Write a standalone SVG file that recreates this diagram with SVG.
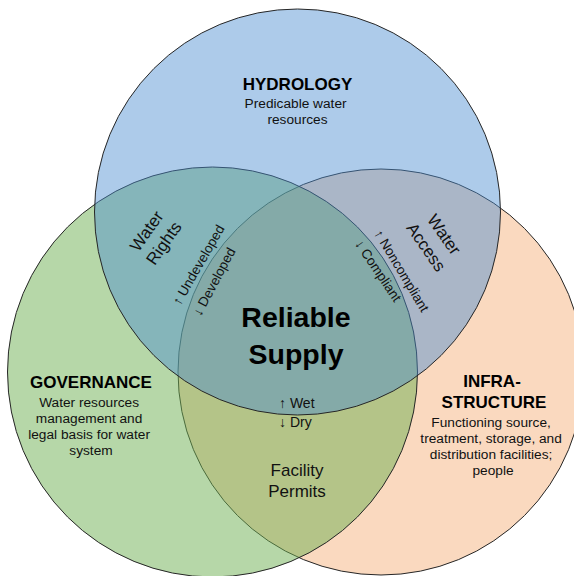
<svg xmlns="http://www.w3.org/2000/svg" width="574" height="576" viewBox="0 0 574 576">
  <style>
    text { font-family: "Liberation Sans", Arial, sans-serif; fill: #111; }
    .ring { stroke: #262626; stroke-width: 1; }
    .title { font-size: 17px; font-weight: bold; text-anchor: middle; fill: #000; }
    .body { font-size: 13.7px; text-anchor: middle; }
    .zone { font-size: 17px; text-anchor: middle; }
    .trend { font-size: 13.5px; text-anchor: middle; }
    .core { font-size: 28.5px; font-weight: bold; text-anchor: middle; fill: #000; }
  </style>

  <rect width="574" height="576" fill="#ffffff"/>

  <!-- Infrastructure circle (bottom right, lowest layer) -->
  <g id="infrastructure">
    <circle class="ring" cx="381" cy="372" r="203" fill="#fad9bf"/>
    <text class="title" x="492" y="387">INFRA-</text>
    <text class="title" x="494" y="408">STRUCTURE</text>
    <text class="body">
      <tspan x="493" y="427">Functioning source,</tspan>
      <tspan x="493" y="443">treatment, storage, and</tspan>
      <tspan x="493" y="459">distribution facilities;</tspan>
      <tspan x="493" y="475">people</tspan>
    </text>
  </g>

  <!-- Governance circle (bottom left) -->
  <g id="governance">
    <circle class="ring" cx="212.5" cy="372" r="205" fill="#6daf51" fill-opacity="0.5"/>
    <text class="title" x="91" y="388">GOVERNANCE</text>
    <text class="body">
      <tspan x="91" y="406.5">Water resources</tspan>
      <tspan x="91" y="422.5">management and</tspan>
      <tspan x="91" y="438.5">legal basis for water</tspan>
      <tspan x="91" y="454.5">system</tspan>
    </text>
  </g>

  <!-- Hydrology circle (top, uppermost layer) -->
  <g id="hydrology">
    <circle class="ring" cx="297.5" cy="212" r="203" fill="#498cd1" fill-opacity="0.45"/>
    <text class="title" x="297.5" y="90">HYDROLOGY</text>
    <text class="body">
      <tspan x="297.5" y="107.5">Predicable water</tspan>
      <tspan x="297.5" y="123.5">resources</tspan>
    </text>
  </g>

  <!-- Pairwise overlap labels -->
  <g id="water-rights">
    <g transform="translate(155,237) rotate(-55)">
      <text class="zone" x="0" y="-4.5">Water</text>
      <text class="zone" x="0" y="16.5">Rights</text>
    </g>
    <text class="trend" transform="translate(202.4,267.3) rotate(-60)">↑ Undeveloped</text>
    <text class="trend" transform="translate(218.3,283.9) rotate(-62)">↓ Developed</text>
  </g>

  <g id="water-access">
    <g transform="translate(435.3,240.7) rotate(55)">
      <text class="zone" x="0" y="-5">Water</text>
      <text class="zone" x="0" y="17">Access</text>
    </g>
    <text class="trend" transform="translate(397.7,273.1) rotate(59)">↑ Noncompliant</text>
    <text class="trend" transform="translate(374.4,273.3) rotate(56)">↓ Compliant</text>
  </g>

  <g id="facility-permits">
    <text class="zone" x="297" y="476">Facility</text>
    <text class="zone" x="297" y="497">Permits</text>
    <text x="279" y="408" font-size="14">↑ Wet</text>
    <text x="279" y="427" font-size="14">↓ Dry</text>
  </g>

  <!-- Centre of all three circles -->
  <g id="reliable-supply">
    <text class="core" x="296" y="327">Reliable</text>
    <text class="core" x="296" y="364">Supply</text>
  </g>
</svg>
